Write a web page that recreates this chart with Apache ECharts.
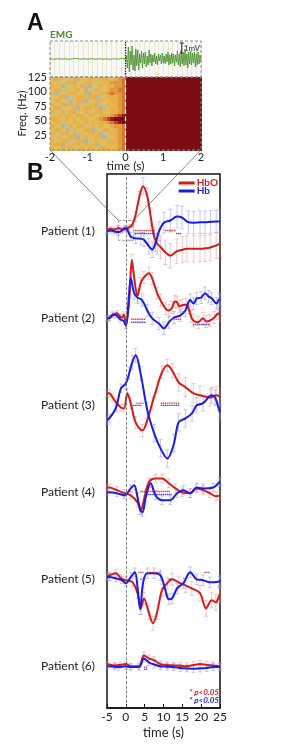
<!DOCTYPE html>
<html>
<head>
<meta charset="utf-8">
<script src="https://cdn.jsdelivr.net/npm/echarts@6/dist/echarts.min.js"></script>
<style>
  html, body { margin: 0; background: #fff; }
  #main { width: 283px; height: 746px; }
</style>
</head>
<body>
<div id="main"></div>
<script>
// ---- panel A: EMG (mV), pre-onset every 0.1 s, post-onset every 0.025 s
const emgPre = [0.02, -0.03, 0.04, -0.02, 0.03, -0.04, 0.02, 0.05, -0.03, 0.02, -0.02,
  0.04, -0.03, 0.03, -0.02, 0.02, -0.04, 0.03, -0.02, 0.05, 0.0]
const emgPost = [0.3, -0.9, 1.2, -1.3, 0.8, -0.6, 1.3, -1.1, 0.4, -1.2,
  1.0, -0.7, 0.9, -1.1, 0.5, -0.4, 0.8, -0.9, 0.6, -0.5,
  0.7, -0.8, 0.3, -0.6, 0.9, -0.4, 0.5, -0.7, 0.4, -0.3,
  0.6, -0.5, 0.3, -0.6, 0.5, -0.2, 0.4, -0.5, 0.6, -0.4,
  0.3, -0.5, 0.5, -0.3, 0.7, -0.6, 0.4, -0.5, 0.6, -0.4,
  0.5, -0.7, 0.4, -0.3, 0.8, -0.6, 0.5, -0.8, 0.9, -0.5,
  0.6, -0.7, 1.0, -0.6, 0.5, -0.9, 0.7, -0.5, 0.8, -0.6,
  0.6, -0.4, 0.7, -0.8, 0.5, -0.6, 0.7, -0.5, 0.4, -0.3]

// spectrogram power level 0..9, before onset: rows from 125 Hz down to 0 Hz, cols -2..0 s (0.1 s)
const specPre = [
  '34432344334434443456',
  '32234413244323445556',
  '43312343441234344556',
  '34423344312343345566',
  '41233443341334456556',
  '33441234434412344456',
  '24432134412344334456',
  '43314434233412343456',
  '34423341344341234456',
  '42343413342344334456',
  '33424434434434445678',
  '44334343443345678999',
  '34423344343434456789',
  '43312434423434334556',
  '34431243344123443456',
  '42344312334431234456',
  '33423441243344123456',
  '43344234412343344456',
  '34412344343412344456',
  '43343423434334433456'
]
const specPostLevel = 9
const specPalette = ['#9ea8a4', '#b3b69e', '#d3bd7c', '#e2bd5e', '#e6b04c', '#e09a3c',
  '#d5772c', '#bb4720', '#961c16', '#7b0c13']

// ---- panel B: [time (s), change, error]
const p1HbO = [[-5, 0.2, 0.3], [-4, 0.3, 0.3], [-3, 0.2, 0.3], [-2, 0.4, 0.3], [-1, 0.2, 0.3], [0, 0.3, 0.3],
  [1, 0.5, 0.3], [1.75, 0.8, 0.4], [2.5, 1.7, 0.6], [3.5, 3.8, 0.8], [4.6, 5.2, 1.0], [5.7, 4.0, 1.0],
  [6.6, 1.7, 1.0], [7.5, -0.6, 1.1], [8.3, -1.4, 1.2], [9.2, -1.8, 1.3], [10.5, -2.4, 1.4], [11.8, -2.8, 1.4],
  [13.5, -2.3, 1.4], [15, -2.1, 1.5], [16.2, -2.0, 1.5], [18, -2.0, 1.5], [19.7, -2.0, 1.5], [21, -1.95, 1.5],
  [22.4, -1.85, 1.5], [24, -1.6, 1.5], [25, -1.4, 1.5]]
const p1Hb = [[-5, 0, 0.3], [-4, 0.1, 0.3], [-3, 0, 0.3], [-2, -0.1, 0.3], [-1, 0.1, 0.3], [-0.3, 0.4, 0.3],
  [0.4, 0.2, 0.4], [1.3, -0.6, 0.5], [2.6, -0.8, 0.6], [4, -0.85, 0.7], [4.8, -0.95, 0.8], [6.1, -1.7, 0.9],
  [7, -2.1, 0.9], [7.9, -1.3, 1.0], [8.8, 0, 1.1], [10.1, 1.0, 1.2], [11.8, 1.25, 1.3], [13.6, 1.7, 1.3],
  [14.9, 1.6, 1.3], [16.6, 1.05, 1.3], [18, 1.0, 1.3], [19.7, 1.05, 1.3], [21, 1.05, 1.3], [22.5, 1.1, 1.3],
  [24, 1.15, 1.3], [25, 1.15, 1.3]]
const p2HbO = [[-5, 0, 0.3], [-4.4, 0.05, 0.3], [-3.5, 0.35, 0.3], [-2.4, 0.6, 0.3], [-1.5, 0.2, 0.3], [-1, 0.1, 0.3],
  [-0.5, 0.45, 0.3], [0, -0.8, 0.4], [0.9, 2.1, 0.6], [1.6, 6.7, 0.7], [2.2, 4.7, 0.7], [3.1, 2.6, 0.7],
  [3.9, 4.0, 0.7], [4.8, 4.7, 0.7], [6.1, 5.2, 0.7], [7, 4.6, 0.7], [8.3, 2.9, 0.7], [9.2, 2.1, 0.7],
  [10.5, 1.15, 0.7], [11.4, 0.9, 0.7], [12.3, 1.25, 0.7], [13, 1.95, 0.7], [13.6, 1.85, 0.7], [14.2, 1.4, 0.7],
  [14.9, 1.5, 0.7], [16, 1.6, 0.7], [16.6, 1.25, 0.7], [17.3, 0.25, 0.7], [17.9, -0.25, 0.7], [19.2, -0.45, 0.7],
  [20.5, 0, 0.7], [21.3, -0.35, 0.7], [22.3, -0.25, 0.7], [23.5, 0.1, 0.7], [24.5, 0.55, 0.7], [25, 0.35, 0.7]]
const p2Hb = [[-5, 0, 0.3], [-4.4, 0, 0.3], [-3.5, 0.45, 0.3], [-2.5, 0.35, 0.3], [-1.5, -0.1, 0.3], [-0.5, -0.35, 0.3],
  [0, -0.8, 0.4], [0.9, 3.0, 0.6], [1.3, 4.6, 0.7], [2.2, 2.9, 0.7], [3.1, 2.4, 0.7], [4.3, 2.1, 0.7],
  [5.7, 0.9, 0.7], [7, 0, 0.7], [8.8, -0.6, 0.7], [10.1, -1.15, 0.7], [11.4, -0.45, 0.7], [12.8, 0.1, 0.7],
  [14.5, 0.35, 0.7], [15.8, 0.9, 0.7], [17.1, 2.1, 0.7], [18, 1.7, 0.7], [18.8, 2.3, 0.7], [20, 2.4, 0.7],
  [21, 2.9, 0.7], [22, 2.5, 0.7], [22.8, 2.3, 0.7], [24.1, 1.7, 0.7], [24.8, 2.2, 0.7], [25, 2.1, 0.7]]
const p3HbO = [[-5, 1.4, 0.4], [-4.4, 1.4, 0.4], [-3.5, 0.9, 0.4], [-2.6, 0.35, 0.4], [-1.3, -0.25, 0.4], [-0.5, -0.35, 0.4],
  [0.4, 1.4, 0.5], [1.3, 0.25, 0.6], [2.6, -1.95, 0.7], [4.4, -2.9, 0.7], [5.7, -1.7, 0.7], [7, 0.25, 0.7],
  [8.3, 2.1, 0.7], [9.6, 3.8, 0.7], [11, 4.6, 0.7], [12.3, 4.0, 0.8], [14, 2.65, 1.0], [15.8, 2.1, 1.1],
  [17.9, 1.4, 1.1], [19.7, 1.15, 1.1], [22.4, 0.9, 1.0], [24, 1.15, 1.0], [25, 1.0, 1.0]]
const p3Hb = [[-5, -1.7, 0.5], [-4.4, -1.5, 0.5], [-2.6, -0.25, 0.5], [-1.3, 1.95, 0.5], [0, 2.5, 0.6], [0.9, 3.7, 0.7],
  [1.7, 4.95, 0.8], [2.6, 5.75, 0.8], [3.9, 3.7, 0.8], [5.7, -0.55, 0.9], [7.5, -3.2, 1.0], [9.2, -4.95, 1.0],
  [11, -6.1, 1.0], [12.8, -4.35, 1.0], [14, -1.95, 1.0], [15.8, -1.5, 1.0], [17.6, -0.9, 0.9], [18.8, 0, 0.9],
  [20.5, 0.25, 0.9], [22.8, 1.15, 0.9], [23.7, 0.9, 0.9], [24.8, -0.55, 0.9], [25, -0.8, 0.9]]
const p4HbO = [[-5, 0.55, 0.4], [-4.4, 0.55, 0.4], [-2.4, 0.25, 0.4], [-0.4, -0.1, 0.4], [1.3, -0.35, 0.4], [3.1, -1.15, 0.5],
  [4, -2.05, 0.5], [4.8, -0.9, 0.5], [6.1, 1.15, 0.5], [7.9, 1.6, 0.5], [9.6, 1.6, 0.5], [11.4, 1.05, 0.5],
  [13.2, 0.45, 0.5], [14.9, 0, 0.5], [17.1, -0.1, 0.5], [18.8, 0.45, 0.5], [20.5, 0.25, 0.5], [22.3, -0.1, 0.5],
  [24, -0.45, 0.5], [25, -0.35, 0.5]]
const p4Hb = [[-5, 0, 0.4], [-2.4, -0.1, 0.4], [-0.4, -0.35, 0.4], [1.3, 0.45, 0.4], [2.2, 0.8, 0.5], [3.1, -0.55, 0.5],
  [3.8, -2.05, 0.5], [4.4, -2.3, 0.5], [5.3, -0.55, 0.5], [6.6, 1.05, 0.5], [7.9, -0.35, 0.5], [9.6, -0.9, 0.5],
  [11.8, -0.9, 0.5], [13.6, -0.1, 0.5], [15.3, 0.25, 0.5], [17.1, -0.1, 0.5], [18.8, 0.55, 0.5], [20.5, 0.45, 0.5],
  [23.2, 0.55, 0.5], [24.8, 1.15, 0.5], [25, 1.25, 0.5]]
const p5HbO = [[-5, 0.35, 0.4], [-4.4, 0.45, 0.4], [-2.6, 0.7, 0.4], [-1.3, 0.1, 0.4], [0, -0.1, 0.4], [1.8, -0.35, 0.5],
  [3.1, -1.6, 0.6], [4, -3.35, 0.7], [4.8, -2.2, 0.7], [6.1, -3.8, 0.8], [7.2, -5.05, 0.8], [8.3, -3.8, 0.8],
  [9.6, -1.25, 0.7], [11, -0.45, 0.7], [12.3, 0, 0.7], [14, -0.35, 0.7], [15.8, -0.7, 0.8], [17.5, -1.05, 0.8],
  [19.7, -1.6, 0.9], [21.3, -3.35, 0.9], [22.8, -2.4, 0.9], [23.9, -2.65, 0.9], [24.8, -1.85, 0.9], [25, -1.7, 0.9]]
const p5Hb = [[-5, 0.25, 0.4], [-4.4, 0.25, 0.4], [-2.6, 0.1, 0.4], [-1, -0.1, 0.4], [0, -0.45, 0.4], [1.3, 0.25, 0.5],
  [2.4, 0.8, 0.5], [3.1, -0.9, 0.6], [3.8, -3.45, 0.6], [4.6, -0.35, 0.6], [5.7, 0.7, 0.6], [7.5, 0.7, 0.6],
  [9.2, 0.45, 0.6], [10.5, -1.25, 0.6], [11.4, -2.3, 0.6], [12.3, -2.2, 0.6], [13.6, -1.05, 0.6], [15.3, -0.45, 0.6],
  [17.1, 0.8, 0.6], [18.8, 0, 0.6], [20.5, -0.1, 0.6], [22.3, -0.35, 0.6], [24.8, -0.25, 0.6], [25, -0.1, 0.6]]
const p6HbO = [[-5, 0.25, 0.35], [-3, 0.1, 0.35], [-1.5, 0.15, 0.35], [0, 0.25, 0.35], [1.3, 0, 0.35], [3.5, 0, 0.35],
  [4.8, 1.25, 0.4], [6.1, 0.9, 0.4], [7.5, 0.7, 0.4], [9.2, 0.25, 0.4], [11, 0.15, 0.4], [12.7, 0.1, 0.4],
  [14.5, 0.05, 0.4], [16.2, 0, 0.4], [18, 0.15, 0.4], [19.7, 0.25, 0.4], [21.5, 0.15, 0.4], [23.2, 0.1, 0.4], [25, 0, 0.4]]
const p6Hb = [[-5, 0, 0.35], [-3, -0.05, 0.35], [-2, -0.1, 0.35], [0, 0, 0.35], [1.3, -0.1, 0.35], [3.5, -0.1, 0.35],
  [4.8, 0.9, 0.4], [6.1, 0.45, 0.4], [7.5, 0.2, 0.4], [9.2, 0, 0.4], [11, -0.05, 0.4], [12.7, -0.1, 0.4],
  [14.5, -0.2, 0.4], [16.2, -0.25, 0.4], [18, -0.3, 0.4], [19.7, -0.25, 0.4], [21.5, -0.2, 0.4], [23.2, -0.1, 0.4], [25, -0.1, 0.4]]

// significant samples (p<0.05): [level, [times]]
const p1SigHbO = [[0.1, [2.5, 3, 3.5, 4, 4.5, 5, 5.5, 6, 6.5, 7, 7.5]], [0.1, [10.5, 11, 11.5, 12, 12.5, 13]]]
const p1SigHb = [[-0.25, [2.5, 3, 3.5, 4, 4.5, 5, 5.5, 6, 6.5, 7, 7.5]], [-0.25, [13.5, 14, 14.5]]]
const p2SigHbO = [[-0.1, [1.5, 2, 2.5, 3, 3.5, 4, 4.5, 5]], [-0.1, [13, 13.5, 14, 14.5]]]
const p2SigHb = [[-0.45, [1.5, 2, 2.5, 3, 3.5, 4, 4.5, 5]], [-0.7, [18, 18.5, 19, 19.5, 20, 20.5, 21, 21.5, 22]]]
const p3SigHbO = [[0.25, [3, 3.5, 4, 4.5]], [0.25, [9.5, 10, 10.5, 11, 11.5, 12, 12.5, 13, 13.5, 14]]]
const p3SigHb = [[0, [2, 2.5, 3, 3.5, 4]], [0, [9.5, 10, 10.5, 11, 11.5, 12, 12.5, 13, 13.5, 14]]]
const p4SigHbO = [[0.1, [4, 4.5, 5, 5.5, 6, 6.5, 7, 7.5, 8, 8.5, 9, 9.5, 10, 10.5, 11, 11.5]]]
const p4SigHb = [[-0.25, [6, 6.5, 7, 7.5, 8, 8.5, 9, 9.5, 10, 10.5, 11, 11.5, 12]]]
const p5SigHbO = [[0.8, [3.5, 4, 4.5]], [0.8, [6.5, 7, 7.5, 8, 8.5, 9]], [0.8, [21, 21.5, 22]]]
const p5SigHb = [[0, [4]], [0, [11.5, 12]]]
const p6SigHbO = [[-0.1, [5, 5.5]]]
const p6SigHb = [[-0.35, [5, 5.5]]]

const patientLabels = ['Patient (1)', 'Patient (2)', 'Patient (3)', 'Patient (4)', 'Patient (5)', 'Patient (6)']

const RED = '#d11d1d'
const BLUE = '#1c1ce8'
const RED_ERR = 'rgba(226,128,128,0.55)'
const BLUE_ERR = 'rgba(140,140,236,0.6)'
const FONT = 'Lato, "DejaVu Sans", sans-serif'
const rowGap = 10

const patients = [
  { hbo: p1HbO, hb: p1Hb, sigHbO: p1SigHbO, sigHb: p1SigHb },
  { hbo: p2HbO, hb: p2Hb, sigHbO: p2SigHbO, sigHb: p2SigHb },
  { hbo: p3HbO, hb: p3Hb, sigHbO: p3SigHbO, sigHb: p3SigHb },
  { hbo: p4HbO, hb: p4Hb, sigHbO: p4SigHbO, sigHb: p4SigHb },
  { hbo: p5HbO, hb: p5Hb, sigHbO: p5SigHbO, sigHb: p5SigHb },
  { hbo: p6HbO, hb: p6Hb, sigHbO: p6SigHbO, sigHb: p6SigHb }
]

const errorSeries = (arr, off, color) => ({
  type: 'custom',
  xAxisIndex: 2,
  yAxisIndex: 2,
  silent: true,
  z: 1,
  encode: { x: 0, y: 1 },
  data: arr.map(d => [d[0], d[1] + off, d[2]]),
  renderItem: (params, api) => {
    const t = api.value(0), v = api.value(1), e = api.value(2)
    const top = api.coord([t, v + e])
    const bot = api.coord([t, v - e])
    const style = { stroke: color, lineWidth: 0.8 }
    return {
      type: 'group',
      children: [
        { type: 'line', shape: { x1: top[0], y1: top[1], x2: bot[0], y2: bot[1] }, style },
        { type: 'line', shape: { x1: top[0] - 2, y1: top[1], x2: top[0] + 2, y2: top[1] }, style },
        { type: 'line', shape: { x1: bot[0] - 2, y1: bot[1], x2: bot[0] + 2, y2: bot[1] }, style }
      ]
    }
  }
})

const lineSeries = (name, arr, off, color) => ({
  type: 'line',
  name,
  xAxisIndex: 2,
  yAxisIndex: 2,
  z: 3,
  smooth: 0.35,
  showSymbol: false,
  data: arr.map(d => [d[0], d[1] + off]),
  lineStyle: { color, width: 2 },
  itemStyle: { color }
})

const sigSeries = (groups, off, color) => ({
  type: 'scatter',
  xAxisIndex: 2,
  yAxisIndex: 2,
  z: 4,
  symbol: 'rect',
  symbolSize: 1.4,
  itemStyle: { color },
  data: groups.flatMap(([lvl, ts]) => ts.map(t => [t, lvl + off]))
})

// spectrogram cells: [t0, f0, level, width]
const fStep = 125 / specPre.length
const specCells = []
specPre.forEach((row, r) => {
  const f0 = 125 - (r + 1) * fStep
  row.split('').forEach((ch, c) => specCells.push([-2 + c * 0.1, f0, +ch, 0.1]))
  specCells.push([0, f0, specPostLevel, 2])
})

const emgData = emgPre.map((v, i) => [-2 + i * 0.1, v])
  .concat(emgPost.map((v, i) => [(i + 1) * 0.025, v]))

const series = [
  {
    type: 'line',
    xAxisIndex: 0,
    yAxisIndex: 0,
    data: emgData,
    showSymbol: false,
    lineStyle: { color: '#3d8a1e', width: 0.8 },
    markLine: {
      silent: true,
      symbol: 'none',
      label: { show: false },
      lineStyle: { color: '#111', type: 'dotted', width: 1.3 },
      data: [{ xAxis: 0 }]
    }
  },
  {
    type: 'custom',
    xAxisIndex: 1,
    yAxisIndex: 1,
    silent: true,
    encode: { x: 0, y: 1 },
    data: specCells,
    renderItem: (params, api) => {
      const t = api.value(0), f = api.value(1), lvl = api.value(2), w = api.value(3)
      const a = api.coord([t, f + fStep])
      const b = api.coord([t + w, f])
      const x0 = Math.round(a[0]), y0 = Math.round(a[1])
      return {
        type: 'rect',
        shape: { x: x0, y: y0, width: Math.round(b[0]) - x0 + 1, height: Math.round(b[1]) - y0 + 1 },
        style: { fill: specPalette[lvl] }
      }
    }
  },
  {
    type: 'line',
    xAxisIndex: 1,
    yAxisIndex: 1,
    data: [],
    z: 5,
    markLine: {
      silent: true,
      symbol: 'none',
      label: { show: false },
      lineStyle: { color: '#fff', type: 'dashed', width: 1.2 },
      data: [{ xAxis: 0 }]
    }
  },
  {
    type: 'line',
    xAxisIndex: 2,
    yAxisIndex: 2,
    data: [],
    markLine: {
      silent: true,
      symbol: 'none',
      label: { show: false },
      lineStyle: { color: '#666', type: 'dashed', width: 0.8 },
      data: [{ xAxis: 0 }]
    },
    markArea: {
      silent: true,
      itemStyle: { color: 'rgba(0,0,0,0)', borderColor: '#888', borderWidth: 0.8, borderType: 'dashed' },
      data: [[{ coord: [-2, 1.26] }, { coord: [2, -1.03] }]]
    }
  }
]

patients.forEach((p, i) => {
  const off = -rowGap * i
  series.push(errorSeries(p.hbo, off, RED_ERR), errorSeries(p.hb, off, BLUE_ERR))
  series.push(lineSeries('HbO', p.hbo, off, RED), lineSeries('Hb', p.hb, off, BLUE))
  series.push(sigSeries(p.sigHbO, off, RED), sigSeries(p.sigHb, off, BLUE))
})

const option = {
  backgroundColor: '#fff',
  animation: false,
  textStyle: { fontFamily: FONT },
  legend: {
    data: [
      { name: 'HbO', textStyle: { color: RED } },
      { name: 'Hb', textStyle: { color: BLUE } }
    ],
    orient: 'vertical',
    align: 'left',
    right: 65,
    top: 178,
    padding: 0,
    icon: 'rect',
    itemWidth: 16,
    itemHeight: 3,
    itemGap: -2,
    selectedMode: false,
    textStyle: { fontSize: 10, fontWeight: 'bold', lineHeight: 9, padding: [0, 0, 0, -3], fontFamily: FONT }
  },
  grid: [
    { left: 50, top: 41, width: 151, height: 36, show: true, backgroundColor: '#f8f8f5', borderWidth: 0 },
    { left: 50, top: 77, width: 151, height: 73 },
    { left: 107, top: 174, width: 113, height: 534, show: true, borderColor: '#111', borderWidth: 1.5 }
  ],
  xAxis: [
    {
      gridIndex: 0, type: 'value', min: -2, max: 2, interval: 0.125,
      axisLine: { show: false }, axisTick: { show: false }, axisLabel: { show: false },
      splitLine: { show: true, lineStyle: { color: '#e6e2cc', width: 0.8 } }
    },
    {
      gridIndex: 1, type: 'value', min: -2, max: 2, interval: 1,
      axisLine: { show: false, onZero: false }, axisTick: { show: false }, splitLine: { show: false },
      axisLabel: { fontSize: 11, color: '#222', margin: 2, fontFamily: FONT },
      name: 'time (s)', nameLocation: 'middle', nameGap: 10, nameMoveOverlap: false,
      nameTextStyle: { fontSize: 12, color: '#222', fontFamily: FONT }
    },
    {
      gridIndex: 2, type: 'value', min: -5, max: 25, interval: 5,
      axisLine: { show: true, onZero: false, lineStyle: { color: '#111', width: 1.5 } },
      axisTick: { show: true, inside: true, length: 4, lineStyle: { color: '#111' } },
      splitLine: { show: false },
      axisLabel: { fontSize: 12, color: '#222', margin: 3, fontFamily: FONT },
      name: 'time (s)', nameLocation: 'middle', nameGap: 18, nameMoveOverlap: false,
      nameTextStyle: { fontSize: 13, color: '#222', fontFamily: FONT }
    }
  ],
  yAxis: [
    { gridIndex: 0, type: 'value', min: -1.8, max: 1.8, show: false },
    {
      gridIndex: 1, type: 'value', min: 0, max: 125, interval: 25,
      axisLine: { show: false, onZero: false }, axisTick: { show: false }, splitLine: { show: false },
      axisLabel: { fontSize: 11, color: '#222', margin: 3, showMinLabel: false, fontFamily: FONT },
      name: 'Freq. (Hz)', nameLocation: 'middle', nameGap: 22, nameRotate: 90, nameMoveOverlap: false,
      nameTextStyle: { fontSize: 11, color: '#222', fontFamily: FONT }
    },
    {
      gridIndex: 2, type: 'value', min: -54.8, max: 6.6,
      axisLine: { show: false, onZero: false }, axisTick: { show: false }, splitLine: { show: false },
      axisLabel: {
        customValues: patientLabels.map((_, i) => -rowGap * i),
        formatter: v => patientLabels[Math.round(-v / rowGap)],
        fontSize: 12, color: '#222', margin: 12, fontFamily: FONT
      }
    }
  ],
  series
}

const chart = echarts.init(document.getElementById('main'))
chart.setOption(option)

// annotations placed through the axes' own scales
const px = (g, p) => chart.convertToPixel({ gridIndex: g }, p)
const dashed = { stroke: '#8a8a8a', lineWidth: 1, lineDash: [3, 2], fill: null }
const rectFrom = (a, b) => ({ x: a[0], y: a[1], width: b[0] - a[0], height: b[1] - a[1] })
const emgTL = px(0, [-2, 1.8]), emgBR = px(0, [2, -1.8])
const spTL = px(1, [-2, 125]), spBR = px(1, [2, 0])
const zl = px(1, [-2, 0]), zr = px(1, [2, 0])
const bl = px(2, [-2, 1.26]), br = px(2, [2, 1.26])
const sTop = px(0, [1.49, 1.6]), sBot = px(0, [1.49, 0.6])
const thin = { stroke: '#555', lineWidth: 0.7 }
const bar = { stroke: '#222', lineWidth: 1 }

chart.setOption({
  graphic: [
    { type: 'rect', z: 20, shape: rectFrom(emgTL, emgBR), style: dashed },
    { type: 'rect', z: 20, shape: rectFrom(spTL, spBR), style: dashed },
    { type: 'line', z: 20, shape: { x1: zl[0], y1: zl[1], x2: bl[0], y2: bl[1] }, style: thin },
    { type: 'line', z: 20, shape: { x1: zr[0], y1: zr[1], x2: br[0], y2: br[1] }, style: thin },
    { type: 'line', z: 20, shape: { x1: sTop[0], y1: sTop[1], x2: sBot[0], y2: sBot[1] }, style: bar },
    { type: 'line', z: 20, shape: { x1: sTop[0] - 2, y1: sTop[1], x2: sTop[0] + 2, y2: sTop[1] }, style: bar },
    { type: 'line', z: 20, shape: { x1: sBot[0] - 2, y1: sBot[1], x2: sBot[0] + 2, y2: sBot[1] }, style: bar },
    { type: 'text', z: 20, x: sTop[0] + 2, y: sTop[1] + 1, style: { text: '1mV', fontSize: 8, fill: '#333', fontFamily: FONT } },
    { type: 'text', z: 20, left: 27, top: 12, style: { text: 'A', fontSize: 23, fontWeight: 'bold', fill: '#111', fontFamily: 'Liberation Sans, Arial, sans-serif' } },
    { type: 'text', z: 20, left: 27, top: 162, style: { text: 'B', fontSize: 23, fontWeight: 'bold', fill: '#111', fontFamily: 'Liberation Sans, Arial, sans-serif' } },
    { type: 'text', z: 20, left: 50, top: 30, style: { text: 'EMG', fontSize: 10, fontWeight: 'bold', fill: '#4a8a28', fontFamily: FONT } },
    { type: 'text', z: 20, right: 64, top: 688, style: { text: '* p<0.05', fontSize: 8, fontStyle: 'italic', fontWeight: 'bold', fill: RED, fontFamily: FONT } },
    { type: 'text', z: 20, right: 64, top: 696, style: { text: '* p<0.05', fontSize: 8, fontStyle: 'italic', fontWeight: 'bold', fill: BLUE, fontFamily: FONT } }
  ]
})
</script>
</body>
</html>
